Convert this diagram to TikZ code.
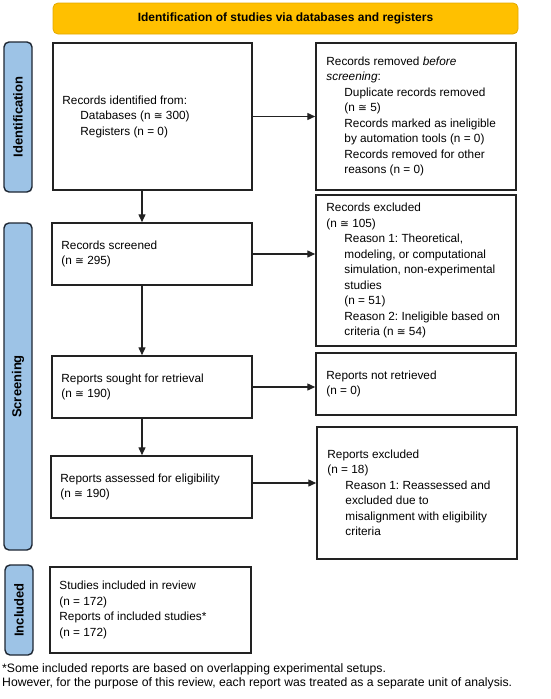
\documentclass[tikz,border=0pt]{standalone}
\usepackage{fontspec}
\setmainfont{Liberation Sans}
\newfontfamily\djv{DejaVu Sans}
\usetikzlibrary{arrows.meta}
\newcommand{\apr}{{\djv\fontsize{10.5}{12}\selectfont ≅}}
\newcommand{\ind}{\hspace*{18pt}}
\definecolor{bannerfill}{HTML}{FFC000}
\definecolor{bannerdraw}{HTML}{E2A900}
\definecolor{sidefill}{HTML}{9DC3E6}
\definecolor{sidedraw}{HTML}{1E2733}
\definecolor{lineclr}{HTML}{222222}
\frenchspacing
\begin{document}
\begin{tikzpicture}[x=1pt,y=-1pt,
  frame/.style={draw=lineclr, line width=1.5pt, inner sep=0pt},
  boxtext/.style={anchor=west, align=left, inner sep=0pt, font=\fontsize{11.8}{15.5}\selectfont},
  sidebar/.style={draw=sidedraw, fill=sidefill, line width=1.4pt, rounded corners=5pt, rotate=90, inner sep=0pt, minimum height=28pt, font=\bfseries\fontsize{13}{15}\selectfont},
  arr/.style={draw=lineclr, line width=1.4pt, -{Triangle[length=8pt,width=7pt]}}
]
\useasboundingbox (0,0) rectangle (550,699);

% banner
\node[draw=bannerdraw, fill=bannerfill, line width=0.8pt, rounded corners=5pt, minimum width=465pt, minimum height=31pt, inner sep=0pt, font=\bfseries\fontsize{12}{14}\selectfont] (banner) at (285.5,18.5) {Identification of studies via databases and registers};

% side bars
\node[sidebar, minimum width=150pt] (sid) at (18,117) {Identification};
\node[sidebar, minimum width=327pt] (ssc) at (18,386.5) {Screening};
\node[sidebar, minimum width=90pt] (sin) at (19,610) {Included};

% left boxes
\node[frame, minimum width=199pt, minimum height=147pt] (b1) at (152.5,116.5) {};
\node[frame, minimum width=200pt, minimum height=62pt] (b2) at (152,254) {};
\node[frame, minimum width=200pt, minimum height=62pt] (b3) at (152,387) {};
\node[frame, minimum width=201pt, minimum height=62pt] (b4) at (151.5,487) {};
\node[frame, minimum width=201pt, minimum height=86pt] (b5) at (150.5,610) {};

% right boxes
\node[frame, minimum width=200pt, minimum height=147pt] (r1) at (416,116.5) {};
\node[frame, minimum width=200pt, minimum height=151pt] (r2) at (416,270.5) {};
\node[frame, minimum width=200pt, minimum height=62pt] (r3) at (416,384) {};
\node[frame, minimum width=200pt, minimum height=132pt] (r4) at (417,493) {};

% texts
\node[boxtext] (b1t) at ([xshift=10pt]b1.west) {Records identified from:\\\ind Databases (n \apr{} 300)\\\ind Registers (n = 0)};
\node[boxtext] (b2t) at ([xshift=10pt]b2.west) {Records screened\\(n \apr{} 295)};
\node[boxtext] (b3t) at ([xshift=10pt]b3.west) {Reports sought for retrieval\\(n \apr{} 190)};
\node[boxtext] (b4t) at ([xshift=10pt]b4.west) {Reports assessed for eligibility\\(n \apr{} 190)};
\node[boxtext] (b5t) at ([xshift=10pt]b5.west) {Studies included in review\\(n = 172)\\Reports of included studies*\\(n = 172)};

\node[boxtext] (r1t) at ([xshift=11pt]r1.west) {Records removed \textit{before}\\\textit{screening}:\\\ind Duplicate records removed\\\ind (n \apr{} 5)\\\ind Records marked as ineligible\\\ind by automation tools (n = 0)\\\ind Records removed for other\\\ind reasons (n = 0)};
\node[boxtext] (r2t) at ([xshift=11pt]r2.west) {Records excluded\\(n \apr{} 105)\\\ind Reason 1: Theoretical,\\\ind modeling, or computational\\\ind simulation, non-experimental\\\ind studies\\\ind (n = 51)\\\ind Reason 2: Ineligible based on\\\ind criteria (n \apr{} 54)};
\node[boxtext] (r3t) at ([xshift=11pt]r3.west) {Reports not retrieved\\(n = 0)};
\node[boxtext] (r4t) at ([xshift=11pt]r4.west) {Reports excluded\\(n = 18)\\\ind Reason 1: Reassessed and\\\ind excluded due to\\\ind misalignment with eligibility\\\ind criteria};

% footnote
\node[anchor=north west, align=left, inner sep=0pt, font=\fontsize{12.2}{14.5}\selectfont] (foot) at (2,663) {*Some included reports are based on overlapping experimental setups.\\However, for the purpose of this review, each report was treated as a separate unit of analysis.};

% arrows
\coordinate (ax) at (142,0);
\draw[arr] (b1.south -| ax) -- (b2.north -| ax);
\draw[arr] (b2.south -| ax) -- (b3.north -| ax);
\draw[arr] (b3.south -| ax) -- (b4.north -| ax);
\draw[arr] (b1.east) -- (b1.east -| r1.west);
\draw[arr] (b2.east) -- (b2.east -| r2.west);
\draw[arr] (b3.east) -- (b3.east -| r3.west);
\draw[arr] ([yshift=4pt]b4.east) -- ([yshift=4pt]b4.east -| r4.west);
\end{tikzpicture}
\end{document}
